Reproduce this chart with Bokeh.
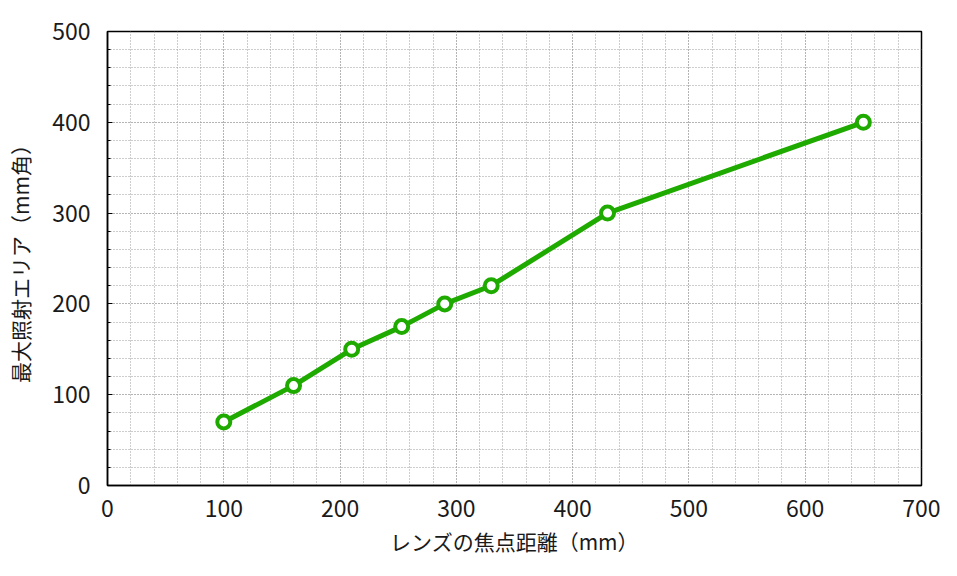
from bokeh.plotting import figure
from bokeh.models import SingleIntervalTicker, Range1d
from bokeh.embed import file_html
from bokeh.resources import INLINE

focal_mm = [100, 160, 210, 253, 290, 330, 430, 650]
area_mm = [70, 110, 150, 175, 200, 220, 300, 400]

x_label = "レンズの焦点距離（mm）"
y_label = "最大照射エリア（mm角）"

FONT = "Noto Sans CJK JP"
GREEN = "#1faa00"

p = figure(width=948, height=562, output_backend="svg", toolbar_location=None,
           x_range=Range1d(0, 700), y_range=Range1d(0, 500),
           min_border_left=107, min_border_right=27, min_border_top=31, min_border_bottom=77)

p.line(focal_mm, area_mm, line_color=GREEN, line_width=5)
p.scatter(focal_mm, area_mm, size=13, fill_color="white", line_color=GREEN, line_width=4)

p.xaxis.ticker = SingleIntervalTicker(interval=100, num_minor_ticks=5)
p.yaxis.ticker = SingleIntervalTicker(interval=100, num_minor_ticks=5)

for ax in (p.xaxis, p.yaxis):
    ax.axis_line_color = "black"
    ax.axis_line_width = 1.5
    ax.major_label_text_font = FONT
    ax.major_label_text_font_size = "23px"
    ax.major_label_text_color = "#1a1a1a"
    ax.axis_label_text_font = FONT
    ax.axis_label_text_font_size = "21px"
    ax.axis_label_text_font_style = "normal"
    ax.axis_label_text_color = "#1a1a1a"

p.xaxis.major_tick_line_color = None
p.xaxis.minor_tick_line_color = None
p.xaxis.major_label_standoff = 8
p.xaxis.axis_label = x_label
p.xaxis.axis_label_standoff = 6

p.yaxis.major_tick_in = 5
p.yaxis.major_tick_out = 0
p.yaxis.minor_tick_in = 3
p.yaxis.minor_tick_out = 0
p.yaxis.major_tick_line_color = "black"
p.yaxis.minor_tick_line_color = "black"
p.yaxis.major_label_standoff = 17
p.yaxis.axis_label = y_label
p.yaxis.axis_label_standoff = 14

for g in (p.xgrid, p.ygrid):
    g.grid_line_color = "#9a9a9a"
    g.grid_line_dash = "1 2"
    g.grid_line_width = 1
    g.minor_grid_line_color = "#9a9a9a"
    g.minor_grid_line_dash = "1 2"
    g.minor_grid_line_width = 1

p.outline_line_color = "black"
p.outline_line_width = 1.5
p.outline_line_alpha = 1
p.background_fill_color = "white"
p.border_fill_color = "white"

open("out.html", "w").write(file_html(p, INLINE))
